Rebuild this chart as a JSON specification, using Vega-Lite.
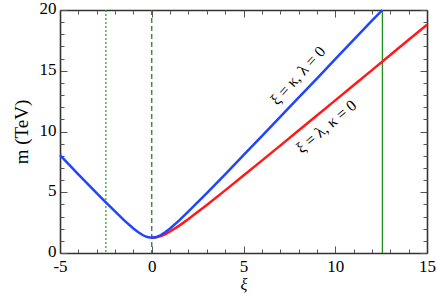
{
  "$schema": "https://vega.github.io/schema/vega-lite/v6.json",
  "autosize": "none",
  "width": 367,
  "height": 243,
  "padding": {"left": 60, "top": 10, "right": 9, "bottom": 44},
  "background": "white",
  "config": {"view": {"stroke": null}, "font": "'Liberation Serif', 'Times New Roman', serif"},
  "datasets": {
    "blue": [
      {"xi": -5, "m": 8.05}, {"xi": -4, "m": 6.48}, {"xi": -3, "m": 4.93}, {"xi": -2.5, "m": 4.17},
      {"xi": -2, "m": 3.42}, {"xi": -1.5, "m": 2.69}, {"xi": -1, "m": 2.02}, {"xi": -0.75, "m": 1.728},
      {"xi": -0.5, "m": 1.48}, {"xi": -0.25, "m": 1.312}, {"xi": 0, "m": 1.25}, {"xi": 0.25, "m": 1.312},
      {"xi": 0.5, "m": 1.48}, {"xi": 0.75, "m": 1.728}, {"xi": 1, "m": 2.02}, {"xi": 1.5, "m": 2.69},
      {"xi": 2, "m": 3.42}, {"xi": 3, "m": 4.93}, {"xi": 4, "m": 6.48}, {"xi": 5, "m": 8.05},
      {"xi": 6, "m": 9.62}, {"xi": 7, "m": 11.2}, {"xi": 8, "m": 12.78}, {"xi": 9, "m": 14.36},
      {"xi": 10, "m": 15.95}, {"xi": 11, "m": 17.54}, {"xi": 12, "m": 19.12}, {"xi": 12.57, "m": 20.0}
    ],
    "red": [
      {"xi": 0, "m": 1.25}, {"xi": 0.25, "m": 1.289}, {"xi": 0.5, "m": 1.398}, {"xi": 0.75, "m": 1.5625},
      {"xi": 1, "m": 1.768}, {"xi": 1.5, "m": 2.253}, {"xi": 2, "m": 2.795}, {"xi": 3, "m": 3.953},
      {"xi": 4, "m": 5.154}, {"xi": 5, "m": 6.374}, {"xi": 6, "m": 7.603}, {"xi": 7, "m": 8.839},
      {"xi": 8, "m": 10.078}, {"xi": 9, "m": 11.319}, {"xi": 10, "m": 12.562}, {"xi": 11, "m": 13.807},
      {"xi": 12, "m": 15.052}, {"xi": 13, "m": 16.298}, {"xi": 14, "m": 17.545}, {"xi": 15, "m": 18.79}
    ],
    "vlines": [
      {"xi": -2.5, "kind": "dotted"},
      {"xi": 0, "kind": "dashed"},
      {"xi": 12.57, "kind": "solid"}
    ],
    "labels": [
      {"xi": 7.97, "m": 14.6, "label": "ξ = κ, λ = 0", "curve": "blue"},
      {"xi": 9.52, "m": 10.4, "label": "ξ = λ, κ = 0", "curve": "red"}
    ]
  },
  "resolve": {"axis": {"x": "independent", "y": "independent"}},
  "layer": [
    {
      "data": {"name": "vlines"},
      "mark": {"type": "rule", "strokeWidth": 1.3},
      "encoding": {
        "x": {"field": "xi", "type": "quantitative",
          "scale": {"domain": [-5, 15], "nice": false, "zero": false},
          "axis": {"orient": "bottom", "values": [-4,-3,-2,-1,1,2,3,4,6,7,8,9,11,12,13,14], "tickSize": -4, "tickColor": "#555", "tickWidth": 1, "labels": false, "domain": false, "grid": false, "title": null}},
        "color": {"field": "kind", "type": "nominal", "legend": null,
          "scale": {"domain": ["dotted", "dashed", "solid"], "range": ["#2ca82c", "#2a7d2a", "#1f8f1f"]}},
        "strokeDash": {"field": "kind", "type": "nominal", "legend": null,
          "scale": {"domain": ["dotted", "dashed", "solid"], "range": [[2, 2], [5, 3], [1, 0]]}}
      }
    },
    {
      "data": {"name": "red"},
      "mark": {"type": "line", "color": "#ff1a1a", "strokeWidth": 2.5},
      "encoding": {
        "x": {"field": "xi", "type": "quantitative",
          "axis": {"orient": "bottom", "values": [-5, 0, 5, 10, 15], "tickSize": -7, "tickColor": "#555", "tickWidth": 1, "domainColor": "#333", "domainWidth": 1.6, "grid": false,
            "labelExpr": "datum.value < 0 ? '-' + abs(datum.value) : '' + datum.value",
            "labelFontSize": 17, "labelColor": "black", "labelPadding": 12, "labelFlush": false,
            "title": "ξ", "titleFontSize": 16, "titleFontStyle": "italic", "titleFontWeight": "normal", "titleColor": "black", "titlePadding": 2}},
        "y": {"field": "m", "type": "quantitative",
          "scale": {"domain": [0, 20], "nice": false},
          "axis": {"orient": "left", "values": [0, 5, 10, 15, 20], "tickSize": -7, "tickColor": "#555", "tickWidth": 1, "domainColor": "#333", "domainWidth": 1.6, "grid": false,
            "labelFontSize": 17, "labelColor": "black", "labelPadding": 11, "labelFlush": false, "labelOffset": -1.5,
            "title": "m (TeV)", "titleFontSize": 19, "titleFontWeight": "normal", "titleColor": "black", "titlePadding": 8}}
      }
    },
    {
      "data": {"name": "blue"},
      "mark": {"type": "line", "color": "#1f45ff", "strokeWidth": 2.5},
      "encoding": {
        "x": {"field": "xi", "type": "quantitative",
          "axis": {"orient": "top", "values": [-5, 0, 5, 10, 15], "tickSize": -7, "tickColor": "#555", "tickWidth": 1, "domainColor": "#333", "domainWidth": 1.6, "grid": false, "labels": false, "title": null}},
        "y": {"field": "m", "type": "quantitative",
          "axis": {"orient": "right", "values": [0, 5, 10, 15, 20], "tickSize": -7, "tickColor": "#555", "tickWidth": 1, "domainColor": "#333", "domainWidth": 1.6, "grid": false, "labels": false, "title": null}}
      }
    },
    {
      "data": {"name": "labels"},
      "transform": [{"filter": "datum.curve === 'blue'"}],
      "mark": {"type": "text", "angle": 312.3, "fontSize": 16, "color": "black"},
      "encoding": {
        "x": {"field": "xi", "type": "quantitative",
          "axis": {"orient": "top", "values": [-4,-3,-2,-1,1,2,3,4,6,7,8,9,11,12,13,14], "tickSize": -4, "tickColor": "#555", "tickWidth": 1, "labels": false, "domain": false, "grid": false, "title": null}},
        "y": {"field": "m", "type": "quantitative",
          "axis": {"orient": "left", "values": [1,2,3,4,6,7,8,9,11,12,13,14,16,17,18,19], "tickSize": -4, "tickColor": "#555", "tickWidth": 1, "labels": false, "domain": false, "grid": false, "title": null}},
        "text": {"field": "label"}
      }
    },
    {
      "data": {"name": "labels"},
      "transform": [{"filter": "datum.curve === 'red'"}],
      "mark": {"type": "text", "angle": 320, "fontSize": 16, "color": "black"},
      "encoding": {
        "x": {"field": "xi", "type": "quantitative", "axis": null},
        "y": {"field": "m", "type": "quantitative",
          "axis": {"orient": "right", "values": [1,2,3,4,6,7,8,9,11,12,13,14,16,17,18,19], "tickSize": -4, "tickColor": "#555", "tickWidth": 1, "labels": false, "domain": false, "grid": false, "title": null}},
        "text": {"field": "label"}
      }
    }
  ]
}
